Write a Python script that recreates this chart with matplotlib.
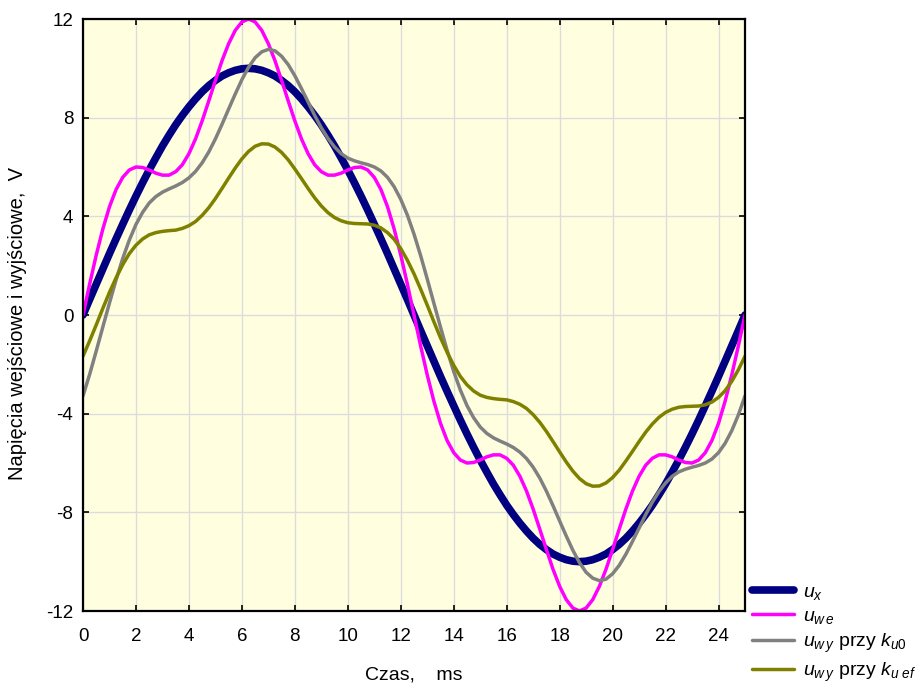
import numpy as np
import matplotlib
matplotlib.use("Agg")
import matplotlib.pyplot as plt

plt.rcParams['font.family'] = ['Liberation Sans', 'DejaVu Sans']
plt.rcParams['mathtext.fontset'] = 'custom'
plt.rcParams['mathtext.it'] = 'Liberation Sans:italic'
plt.rcParams['mathtext.rm'] = 'Liberation Sans'
plt.rcParams['axes.unicode_minus'] = False

# time, ms (sampling every 0.25 ms)
czas_ms = np.arange(0, 25.001, 0.25)

u_x = [0.00, 0.63, 1.25, 1.87, 2.49, 3.09, 3.68, 4.26, 4.82, 5.36, 5.88, 6.37, 6.85, 7.29, 7.71, 8.09,
       8.44, 8.76, 9.05, 9.30, 9.51, 9.69, 9.82, 9.92, 9.98, 10.00, 9.98, 9.92, 9.82, 9.69, 9.51, 9.30,
       9.05, 8.76, 8.44, 8.09, 7.71, 7.29, 6.85, 6.37, 5.88, 5.36, 4.82, 4.26, 3.68, 3.09, 2.49, 1.87,
       1.25, 0.63, 0.00, -0.63, -1.25, -1.87, -2.49, -3.09, -3.68, -4.26, -4.82, -5.36, -5.88, -6.37,
       -6.85, -7.29, -7.71, -8.09, -8.44, -8.76, -9.05, -9.30, -9.51, -9.69, -9.82, -9.92, -9.98, -10.00,
       -9.98, -9.92, -9.82, -9.69, -9.51, -9.30, -9.05, -8.76, -8.44, -8.09, -7.71, -7.29, -6.85, -6.37,
       -5.88, -5.36, -4.82, -4.26, -3.68, -3.09, -2.49, -1.87, -1.25, -0.63, 0.00]

u_we = [0.00, 1.25, 2.43, 3.49, 4.39, 5.09, 5.58, 5.88, 6.00, 5.98, 5.88, 5.75, 5.67, 5.67, 5.81, 6.09,
        6.54, 7.14, 7.87, 8.68, 9.51, 10.31, 11.00, 11.54, 11.88, 12.00, 11.88, 11.54, 11.00, 10.31, 9.51,
        8.68, 7.87, 7.14, 6.54, 6.09, 5.81, 5.67, 5.67, 5.75, 5.88, 5.98, 6.00, 5.88, 5.58, 5.09, 4.39,
        3.49, 2.43, 1.25, 0.00, -1.25, -2.43, -3.49, -4.39, -5.09, -5.58, -5.88, -6.00, -5.98, -5.88,
        -5.75, -5.67, -5.67, -5.81, -6.09, -6.54, -7.14, -7.87, -8.68, -9.51, -10.31, -11.00, -11.54,
        -11.88, -12.00, -11.88, -11.54, -11.00, -10.31, -9.51, -8.68, -7.87, -7.14, -6.54, -6.09, -5.81,
        -5.67, -5.67, -5.75, -5.88, -5.98, -6.00, -5.88, -5.58, -5.09, -4.39, -3.49, -2.43, -1.25, 0.00]

u_wy_ku0 = [-3.28, -2.41, -1.46, -0.48, 0.49, 1.43, 2.29, 3.04, 3.67, 4.16, 4.54, 4.80, 4.98, 5.11, 5.23,
            5.37, 5.56, 5.82, 6.17, 6.61, 7.14, 7.73, 8.35, 8.96, 9.54, 10.04, 10.43, 10.67, 10.77, 10.71,
            10.49, 10.15, 9.70, 9.18, 8.64, 8.09, 7.59, 7.16, 6.81, 6.54, 6.36, 6.25, 6.17, 6.10, 6.00,
            5.84, 5.58, 5.20, 4.69, 4.05, 3.28, 2.41, 1.46, 0.48, -0.49, -1.43, -2.29, -3.04, -3.67, -4.16,
            -4.54, -4.80, -4.98, -5.11, -5.23, -5.37, -5.56, -5.82, -6.17, -6.61, -7.14, -7.73, -8.35,
            -8.96, -9.54, -10.04, -10.43, -10.67, -10.77, -10.71, -10.49, -10.15, -9.70, -9.18, -8.64,
            -8.09, -7.59, -7.16, -6.81, -6.54, -6.36, -6.25, -6.17, -6.10, -6.00, -5.84, -5.58, -5.20,
            -4.69, -4.05, -3.28]

u_wy_kuef = [-1.67, -1.05, -0.40, 0.27, 0.92, 1.51, 2.04, 2.49, 2.83, 3.08, 3.25, 3.34, 3.39, 3.42, 3.44,
             3.51, 3.62, 3.79, 4.04, 4.35, 4.72, 5.13, 5.55, 5.96, 6.33, 6.63, 6.84, 6.94, 6.93, 6.81,
             6.59, 6.29, 5.92, 5.53, 5.13, 4.75, 4.42, 4.15, 3.95, 3.82, 3.74, 3.71, 3.70, 3.69, 3.64,
             3.53, 3.34, 3.07, 2.69, 2.22, 1.67, 1.05, 0.40, -0.27, -0.92, -1.51, -2.04, -2.49, -2.83,
             -3.08, -3.25, -3.34, -3.39, -3.42, -3.44, -3.51, -3.62, -3.79, -4.04, -4.35, -4.72, -5.13,
             -5.55, -5.96, -6.33, -6.63, -6.84, -6.94, -6.93, -6.81, -6.59, -6.29, -5.92, -5.53, -5.13,
             -4.75, -4.42, -4.15, -3.95, -3.82, -3.74, -3.71, -3.70, -3.69, -3.64, -3.53, -3.34, -3.07,
             -2.69, -2.22, -1.67]

x_ticks = [0, 2, 4, 6, 8, 10, 12, 14, 16, 18, 20, 22, 24]
y_ticks = [-12, -8, -4, 0, 4, 8, 12]

labels = [r'$u_x$', r'$u_{w\,e}$', r'$u_{w\,y}$ przy $k_{u\mathit{0}}$', r'$u_{w\,y}$ przy $k_{u\ ef}$']
colors = ['#000080', '#FF00FF', '#808080', '#808000']
widths = [5.5, 2.5, 2.5, 2.5]

fig = plt.figure(figsize=(9.21, 6.88), dpi=100)
ax = fig.add_axes([83/921, 1-611/688, (745-83)/921, (611-19)/688])
ax.set_facecolor('#FFFFE0')

series = [u_x, u_we, u_wy_ku0, u_wy_kuef]
for vals, lab, col, lw in zip(series, labels, colors, widths):
    ax.plot(czas_ms, vals, color=col, lw=lw, label=lab, solid_capstyle='round', zorder=3)

ax.set_xlim(0, 25)
ax.set_ylim(-12, 12)
ax.set_xticks(x_ticks)
ax.set_yticks(y_ticks)
ax.grid(True, color='#DCDCDC', lw=1.0, zorder=0)
ax.set_axisbelow(True)
ax.tick_params(direction='in', length=4, width=1.2, top=True, right=True,
               labelsize=13.5, colors='black')
ax.tick_params(axis='x', pad=12)
ax.tick_params(axis='y', pad=7)
for sp in ax.spines.values():
    sp.set_linewidth(1.6)
    sp.set_color('black')
    sp.set_zorder(4)

ax.set_xlabel('Czas,    ms', fontsize=14)
ax.xaxis.set_label_coords(0.5, -0.094)
ax.set_ylabel('Napięcia wejściowe i wyjściowe,  V', fontsize=14.5)
ax.yaxis.set_label_coords(-0.085, 0.485)

handles, labs = ax.get_legend_handles_labels()
fig.legend(handles, labs, loc='upper left', bbox_to_anchor=(752/921, 1-583/688),
           frameon=False, fontsize=14, handlelength=2.15, handletextpad=0.45,
           labelspacing=0.3, borderaxespad=0.0, borderpad=0.0)

fig.savefig('out.png', dpi=100)
